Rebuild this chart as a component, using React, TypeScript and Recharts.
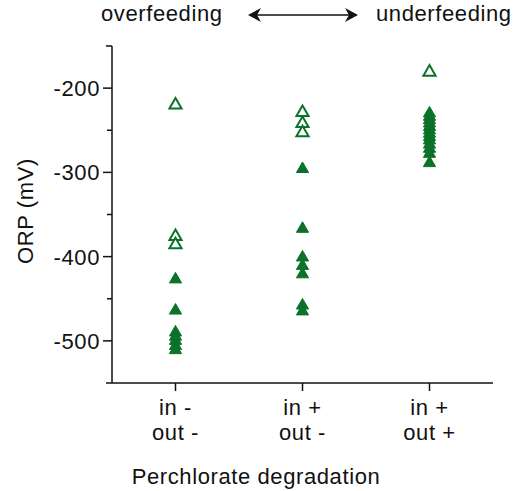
import { ScatterChart, Scatter, XAxis, YAxis, ZAxis, Customized } from "recharts";

const inLabels = ["in -", "in +", "in +"];
const outLabels = ["out -", "out -", "out +"];

// ORP (mV) per group, open = hollow triangles, filled = solid triangles
const openValues = [
  [-220, -376, -386],
  [-229, -242, -253],
  [-181],
];
const filledValues = [
  [-427, -464, -490, -495, -500, -506, -511],
  [-296, -367, -401, -411, -421, -458, -465],
  [-230, -234, -238, -242, -246, -250, -254, -258, -262, -267, -272, -278, -289],
];

const yTicks = [-500, -450, -400, -350, -300, -250, -200];

const green = "#0a7229";
const ink = "#111111";
const font = "'Liberation Sans', Arial, sans-serif";
const fs = 22;
const ls = 0.6;

const toPoints = (groups: number[][]) =>
  groups.flatMap((vals, i) => vals.map((v) => ({ x: i + 1, y: v })));

const openData = toPoints(openValues);
const filledData = toPoints(filledValues);

function YTick({ x, y, payload }: any) {
  const major = payload.value % 100 === 0;
  return (
    <g>
      <line x1={x} x2={x - (major ? 9 : 5)} y1={y} y2={y} stroke={ink} strokeWidth={1.5} />
      {major && (
        <text x={x - 12} y={y} dy="0.36em" textAnchor="end" fontSize={fs} fill={ink} fontFamily={font} letterSpacing={ls}>
          {payload.value}
        </text>
      )}
    </g>
  );
}

function XTick({ x, y, payload }: any) {
  const i = payload.value - 1;
  return (
    <g>
      <line x1={x} x2={x} y1={y} y2={y + 8} stroke={ink} strokeWidth={1.5} />
      <text x={x} y={y + 32} textAnchor="middle" fontSize={fs} fill={ink} fontFamily={font} letterSpacing={ls}>
        {inLabels[i]}
      </text>
      <text x={x} y={y + 57} textAnchor="middle" fontSize={fs} fill={ink} fontFamily={font} letterSpacing={ls}>
        {outLabels[i]}
      </text>
    </g>
  );
}

function Extras() {
  return (
    <g>
      <g fontFamily={font} fontSize={fs} fill={ink} letterSpacing={ls}>
        <text x={101} y={21}>overfeeding</text>
        <text x={376} y={21}>underfeeding</text>
        <text x={256} y={484} textAnchor="middle">Perchlorate degradation</text>
        <text x={33} y={211} textAnchor="middle" transform="rotate(-90 33 211)">ORP (mV)</text>
      </g>
      <line x1={254} x2={352} y1={15} y2={15} stroke={ink} strokeWidth={1.6} />
      <path d="M248 15 L261 8 L257 15 L261 22 Z" fill={ink} />
      <path d="M358 15 L345 8 L349 15 L345 22 Z" fill={ink} />
      <line x1={106} x2={112} y1={46} y2={46} stroke={ink} strokeWidth={1.5} />
      <line x1={106} x2={112} y1={383} y2={383} stroke={ink} strokeWidth={1.5} />
    </g>
  );
}

export default function App() {
  return (
    <div style={{ position: "absolute", left: 0, top: 0, width: 514, height: 491, background: "#fff" }}>
      <ScatterChart width={514} height={491} margin={{ top: 46, right: 21, bottom: 0, left: 0 }}>
        <XAxis
          type="number"
          dataKey="x"
          domain={[0.5, 3.5]}
          ticks={[1, 2, 3]}
          tick={<XTick />}
          tickLine={false}
          tickSize={0}
          tickMargin={0}
          height={108}
          axisLine={{ stroke: ink, strokeWidth: 1.5 }}
        />
        <XAxis
          xAxisId="top"
          orientation="top"
          type="number"
          dataKey="x"
          domain={[0.5, 3.5]}
          tick={false}
          tickLine={false}
          height={0}
          axisLine={{ stroke: ink, strokeWidth: 1.5 }}
        />
        <YAxis
          type="number"
          dataKey="y"
          domain={[-550, -150]}
          ticks={yTicks}
          tick={<YTick />}
          tickLine={false}
          tickSize={0}
          tickMargin={0}
          width={112}
          axisLine={{ stroke: ink, strokeWidth: 1.5 }}
        />
        <YAxis
          yAxisId="right"
          orientation="right"
          type="number"
          dataKey="y"
          domain={[-550, -150]}
          tick={false}
          tickLine={false}
          width={0}
          axisLine={{ stroke: ink, strokeWidth: 1.5 }}
        />
        <ZAxis range={[105, 105]} />
        <Scatter
          data={filledData}
          shape="triangle"
          fill={green}
          stroke={green}
          strokeWidth={1}
          isAnimationActive={false}
        />
        <Scatter
          data={openData}
          shape="triangle"
          fill="#ffffff"
          stroke={green}
          strokeWidth={2}
          isAnimationActive={false}
        />
        <Customized component={<Extras />} />
      </ScatterChart>
    </div>
  );
}
